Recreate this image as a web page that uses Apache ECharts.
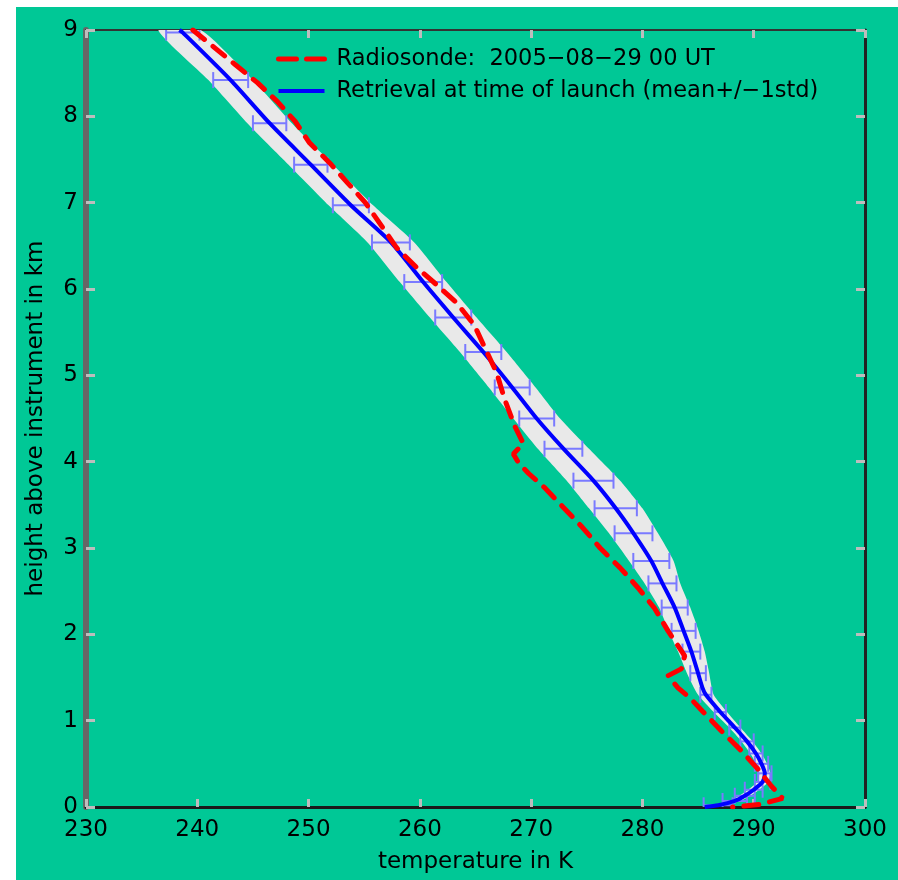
<!DOCTYPE html>
<html>
<head>
<meta charset="utf-8">
<script src="https://cdn.jsdelivr.net/npm/echarts@6/dist/echarts.min.js"></script>
<style>
  html, body { margin: 0; padding: 0; background: #ffffff; width: 898px; height: 880px; overflow: hidden; }
  #chart { position: absolute; left: 16px; top: 7px; width: 882px; height: 873px; background: #00c896; }
</style>
</head>
<body>
<div id="chart"></div>
<script>
// ---- Data ----
const xTickLabels = [230, 240, 250, 260, 270, 280, 290, 300];
const yTickLabels = [0, 1, 2, 3, 4, 5, 6, 7, 8, 9];

const seriesNames = [
  'Radiosonde:  2005\u221208\u221229 00 UT',
  'Retrieval at time of launch (mean+/\u22121std)'
];

// Radiosonde profile (temperature K, height km)
const sondeTemps = [239.6, 241.6, 243.4, 245.4, 247.2, 248.8, 250.1, 251.9, 253.5, 255.1,
  256.4, 257.9, 259.7, 261.5, 263.3, 264.9, 265.8, 266.9, 267.6, 268.5,
  269.3, 268.4, 268.9, 269.8, 271.2, 272.9, 274.6, 276.2, 278.0, 279.6,
  281.1, 282.3, 283.8, 283.5, 282.3, 283.2, 284.3, 285.4, 287.1, 288.9,
  290.3, 291.6, 292.6, 290.6, 288.1];
const sondeHeights = [9.0, 8.79, 8.6, 8.39, 8.17, 7.94, 7.69, 7.46, 7.23, 7.0,
  6.76, 6.48, 6.25, 6.05, 5.84, 5.58, 5.33, 5.03, 4.73, 4.42,
  4.21, 4.09, 3.98, 3.86, 3.70, 3.47, 3.24, 3.0, 2.77, 2.54,
  2.30, 2.04, 1.75, 1.60, 1.52, 1.38, 1.26, 1.11, 0.88, 0.65,
  0.45, 0.24, 0.10, 0.03, 0.0];

// Retrieval mean profile (temperature K, height km)
const retrievalTemps = [238.4, 238.7, 243.0, 246.5, 250.2, 253.8, 257.4, 260.3, 263.0, 265.7,
  268.3, 270.5, 272.9, 275.6, 277.6, 279.2, 280.8, 281.8, 282.9, 283.7,
  284.4, 285.0, 285.4, 285.7, 287.0, 288.3, 289.4, 290.2, 290.7, 291.0,
  290.8, 290.0, 289.2, 288.3, 286.8, 285.6];
const retrievalHeights = [9.0, 8.97, 8.42, 7.92, 7.44, 6.97, 6.54, 6.08, 5.67, 5.27,
  4.86, 4.50, 4.15, 3.78, 3.46, 3.17, 2.85, 2.59, 2.31, 2.04,
  1.80, 1.55, 1.38, 1.30, 1.10, 0.92, 0.76, 0.62, 0.50, 0.39,
  0.29, 0.20, 0.13, 0.07, 0.02, 0.0];

// Retrieval levels with +/- 1 std error bars
const levelHeights = [8.97, 8.42, 7.92, 7.44, 6.97, 6.54, 6.08, 5.67, 5.27, 4.86,
  4.50, 4.15, 3.78, 3.46, 3.17, 2.85, 2.59, 2.31, 2.04, 1.80,
  1.55, 1.30, 1.10, 0.92, 0.76, 0.62, 0.50, 0.39, 0.29, 0.20,
  0.13, 0.07, 0.02];
const levelMeans = [238.7, 243.0, 246.5, 250.2, 253.8, 257.4, 260.3, 263.0, 265.7, 268.3,
  270.5, 272.9, 275.6, 277.6, 279.2, 280.8, 281.8, 282.9, 283.7, 284.4,
  285.0, 285.7, 287.0, 288.3, 289.4, 290.2, 290.7, 291.0, 290.8, 290.0,
  289.2, 288.3, 286.8];
const levelStd = [1.5, 1.57, 1.5, 1.5, 1.62, 1.7, 1.7, 1.62, 1.62, 1.57,
  1.57, 1.7, 1.8, 1.9, 1.7, 1.62, 1.26, 1.17, 1.08, 0.8,
  0.7, 0.5, 0.5, 0.5, 0.6, 0.6, 0.6, 0.6, 0.7, 0.8,
  0.9, 1.1, 1.3];

// Grey shaded envelope half width (K) along the retrieval profile
const bandHeights = [9.0, 8.42, 7.92, 7.44, 6.97, 6.54, 6.08, 5.67, 5.27, 4.86,
  4.50, 4.15, 3.78, 3.46, 3.17, 2.85, 2.59, 2.31, 2.04, 1.80,
  1.55, 1.30, 1.10, 0.92, 0.76, 0.62, 0.50, 0.39, 0.29, 0.20,
  0.13, 0.07, 0.02];
const bandCenters = [238.4, 243.0, 246.5, 250.2, 253.8, 257.4, 260.3, 263.0, 265.7, 268.3,
  270.5, 272.9, 275.6, 277.6, 279.2, 280.8, 281.8, 282.9, 283.7, 284.4,
  285.0, 285.7, 287.0, 288.3, 289.4, 290.2, 290.7, 291.0, 290.8, 290.0,
  289.2, 288.3, 286.8];
const bandHalfWidth = [1.9, 2.0, 2.0, 2.0, 2.0, 2.1, 2.1, 2.1, 2.1, 2.1,
  2.1, 2.3, 2.4, 2.4, 2.2, 2.0, 1.6, 1.4, 1.35, 1.2,
  1.0, 0.7, 0.6, 0.5, 0.5, 0.5, 0.5, 0.5, 0.5, 0.5,
  0.5, 0.5, 0.5];

// ---- Build series data ----
const sondeData = sondeTemps.map((t, i) => [t, sondeHeights[i]]);
const retrievalData = retrievalTemps.map((t, i) => [t, retrievalHeights[i]]);
const barData = levelMeans.map((m, i) => [m, levelHeights[i], levelStd[i]]);
const bandData = [0];

const FONT = 'DejaVu Sans';
const chart = echarts.init(document.getElementById('chart'), null, { renderer: 'canvas' });

const option = {
  animation: false,
  backgroundColor: '#00c896',
  grid: { left: 70, top: 23, right: 33, bottom: 73, containLabel: false },
  legend: {
    orient: 'vertical',
    left: 255,
    top: 34,
    itemWidth: 46,
    itemHeight: 14,
    itemGap: 6,
    itemStyle: { opacity: 0 },
    textStyle: { fontSize: 22.5, fontFamily: FONT, color: '#000', lineHeight: 26, padding: [0, 0, 0, 7] },
    data: [
      { name: seriesNames[0], lineStyle: { color: '#ff0000', width: 5, type: [18, 10] } },
      { name: seriesNames[1], lineStyle: { color: '#0000ff', width: 4, type: 'solid' } }
    ]
  },
  xAxis: [
    {
      type: 'value', min: 230, max: 300, interval: 10, position: 'bottom',
      axisLine: { show: true, onZero: false, lineStyle: { color: '#1a1a1a', width: 3 } },
      axisTick: { show: true, inside: true, length: 8, lineStyle: { color: '#bdbdbd', width: 3 } },
      axisLabel: { fontSize: 23, fontFamily: FONT, color: '#000', margin: 12,
        formatter: v => xTickLabels.includes(v) ? String(v) : '' },
      splitLine: { show: false },
      name: 'temperature in K', nameLocation: 'middle', nameGap: 44,
      nameTextStyle: { fontSize: 23, fontFamily: FONT, color: '#000' }
    },
    {
      type: 'value', min: 230, max: 300, interval: 10, position: 'top',
      axisLine: { show: true, onZero: false, lineStyle: { color: '#333', width: 2 } },
      axisTick: { show: true, inside: true, length: 8, lineStyle: { color: '#bdbdbd', width: 3 } },
      axisLabel: { show: false }, splitLine: { show: false }
    }
  ],
  yAxis: [
    {
      type: 'value', min: 0, max: 9, interval: 1, position: 'left',
      axisLine: { show: true, onZero: false, lineStyle: { color: '#666', width: 6 } },
      axisTick: { show: true, inside: true, length: 9, lineStyle: { color: '#bdbdbd', width: 3 } },
      axisLabel: { fontSize: 23, fontFamily: FONT, color: '#000', margin: 8,
        formatter: v => yTickLabels.includes(v) ? String(v) : '' },
      splitLine: { show: false },
      name: 'height above instrument in km', nameLocation: 'middle', nameGap: 38,
      nameTextStyle: { fontSize: 23, fontFamily: FONT, color: '#000' }
    },
    {
      type: 'value', min: 0, max: 9, interval: 1, position: 'right',
      axisLine: { show: true, onZero: false, lineStyle: { color: '#222', width: 3 } },
      axisTick: { show: true, inside: true, length: 9, lineStyle: { color: '#bdbdbd', width: 3 } },
      axisLabel: { show: false }, splitLine: { show: false }
    }
  ],
  series: [
    {
      type: 'custom', name: 'band', xAxisIndex: 0, yAxisIndex: 0, z: 1, silent: true, clip: true,
      data: bandData,
      renderItem: function (params, api) {
        const pts = [];
        for (let i = 0; i < bandHeights.length; i++) {
          pts.push(api.coord([bandCenters[i] - bandHalfWidth[i], bandHeights[i]]));
        }
        for (let i = bandHeights.length - 1; i >= 0; i--) {
          pts.push(api.coord([bandCenters[i] + bandHalfWidth[i], bandHeights[i]]));
        }
        return { type: 'polygon', shape: { points: pts, smooth: 0.2 }, style: { fill: '#e9e9e9', stroke: null } };
      }
    },
    {
      type: 'custom', name: 'errbars', xAxisIndex: 0, yAxisIndex: 0, z: 2, silent: true, clip: true,
      data: barData,
      renderItem: function (params, api) {
        const m = api.value(0), h = api.value(1), s = api.value(2);
        const l = api.coord([m - s, h]);
        const r = api.coord([m + s, h]);
        const cap = 8;
        const st = { stroke: '#7a7aff', lineWidth: 2, fill: null };
        return {
          type: 'group',
          children: [
            { type: 'line', shape: { x1: l[0], y1: l[1], x2: r[0], y2: r[1] }, style: st },
            { type: 'line', shape: { x1: l[0], y1: l[1] - cap, x2: l[0], y2: l[1] + cap }, style: st },
            { type: 'line', shape: { x1: r[0], y1: r[1] - cap, x2: r[0], y2: r[1] + cap }, style: st }
          ]
        };
      }
    },
    {
      type: 'line', name: seriesNames[1], xAxisIndex: 0, yAxisIndex: 0, z: 3,
      data: retrievalData, symbol: 'none', smooth: 0.25,
      lineStyle: { color: '#0000ff', width: 4 },
      itemStyle: { color: '#0000ff' }
    },
    {
      type: 'line', name: seriesNames[0], xAxisIndex: 0, yAxisIndex: 0, z: 4,
      data: sondeData, symbol: 'none',
      lineStyle: { color: '#ff0000', width: 5, type: [15, 11], cap: 'round' },
      itemStyle: { color: '#ff0000' }
    }
  ]
};
chart.setOption(option);
</script>
</body>
</html>
